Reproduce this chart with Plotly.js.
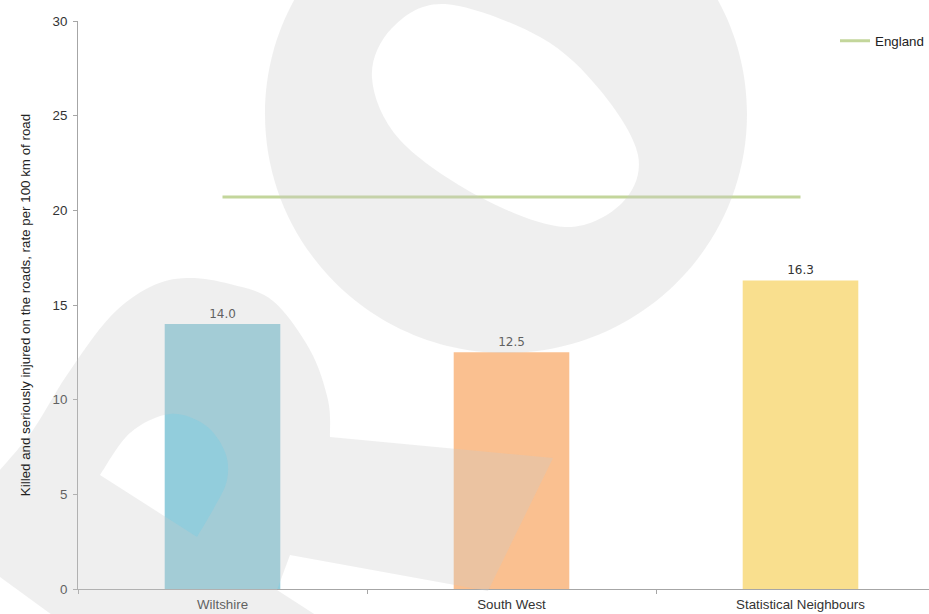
<!DOCTYPE html>
<html>
<head>
<meta charset="utf-8">
<script src="https://cdn.plot.ly/plotly-3.0.1.min.js"></script>
<style>
  html, body { margin: 0; padding: 0; background: #ffffff; overflow: hidden; }
  #chart { width: 929px; height: 614px; }
</style>
</head>
<body>
<div id="chart"></div>
<script>
// ---- data ----
const categories = ['Wiltshire', 'South West', 'Statistical Neighbours'];
const rates = [14.0, 12.5, 16.3];
const englandRate = [20.7, 20.7, 20.7];
const barColors = ['#92cddc', '#fac090', '#f9df8e'];
const yTickValues = [0, 5, 10, 15, 20, 25, 30];
const yTitle = 'Killed and seriously injured on the roads, rate per 100 km of road';
const englandName = 'England';

// ---- geometry helpers for the background watermark (decoration) ----
const W = 929, H = 614;
const M = { l: 78, r: 0, t: 21, b: 25 };
function P(x, y) {
  const px = (x - M.l) / (W - M.l - M.r);
  const py = (H - M.b - y) / (H - M.t - M.b);
  return px.toFixed(5) + ',' + py.toFixed(5);
}
function curveThrough(pts, closed) {
  const N = pts.length;
  const segs = closed ? N : N - 1;
  let s = '';
  for (let i = 0; i < segs; i++) {
    const p0 = pts[closed ? (i - 1 + N) % N : Math.max(i - 1, 0)];
    const p1 = pts[i];
    const p2 = pts[(i + 1) % N];
    const p3 = pts[closed ? (i + 2) % N : Math.min(i + 2, N - 1)];
    const c1 = [p1[0] + (p2[0] - p0[0]) / 6, p1[1] + (p2[1] - p0[1]) / 6];
    const c2 = [p2[0] - (p3[0] - p1[0]) / 6, p2[1] - (p3[1] - p1[1]) / 6];
    s += ' C' + P(c1[0], c1[1]) + ' ' + P(c2[0], c2[1]) + ' ' + P(p2[0], p2[1]);
  }
  return s;
}
function ellipsePath(cx, cy, rx, ry) {
  const k = 0.5523;
  return 'M' + P(cx + rx, cy) +
    ' C' + P(cx + rx, cy + k * ry) + ' ' + P(cx + k * rx, cy + ry) + ' ' + P(cx, cy + ry) +
    ' C' + P(cx - k * rx, cy + ry) + ' ' + P(cx - rx, cy + k * ry) + ' ' + P(cx - rx, cy) +
    ' C' + P(cx - rx, cy - k * ry) + ' ' + P(cx - k * rx, cy - ry) + ' ' + P(cx, cy - ry) +
    ' C' + P(cx + k * rx, cy - ry) + ' ' + P(cx + rx, cy - k * ry) + ' ' + P(cx + rx, cy) + ' Z';
}

const eggPts = [[445, 4], [540, 37], [600, 90], [638, 155], [622, 203], [565, 227],
                [480, 197], [400, 140], [372, 78], [392, 28]];
const topPath = ellipsePath(506, 114, 241, 239) +
  ' M' + P(eggPts[0][0], eggPts[0][1]) + curveThrough(eggPts, true) + ' Z';

const arcPts = [[0, 470], [33, 430], [67, 375], [110, 317], [150, 287], [187, 278],
                [230, 284], [273, 301], [310, 350], [328, 400], [330, 437]];
const dropPts = [[100, 475], [130, 433], [170, 414], [205, 425], [225, 452],
                 [227, 480], [214, 508], [197, 537]];
const hookPath =
  'M' + P(100, 650) + ' L' + P(-30, 555) + ' L' + P(-30, 470) + ' L' + P(0, 470) +
  curveThrough(arcPts, false) +
  ' L' + P(553, 458) + ' L' + P(488, 591) + ' L' + P(290, 555) + ' L' + P(277, 590) +
  ' L' + P(370, 650) + ' Z' +
  ' M' + P(dropPts[0][0], dropPts[0][1]) + curveThrough(dropPts, false) + ' Z';

const wmStyle = {
  type: 'path', xref: 'paper', yref: 'paper', layer: 'above',
  fillcolor: 'rgb(202,202,202)', opacity: 0.3, line: { width: 0 }, fillrule: 'evenodd'
};

const FONT = 'Liberation Sans, Arial, sans-serif';
const FS = 13.33;

// ---- traces ----
const bars = {
  type: 'bar',
  x: categories,
  y: rates,
  marker: { color: barColors, line: { width: 0 } },
  width: 0.4,
  texttemplate: '%{y:.1f}',
  textposition: 'outside',
  cliponaxis: false,
  textfont: { family: 'DejaVu Sans, sans-serif', size: 12, color: '#333333' },
  showlegend: false,
  hoverinfo: 'skip'
};
const england = {
  type: 'scatter',
  mode: 'lines',
  name: englandName,
  x: categories,
  y: englandRate,
  line: { color: '#c3d69b', width: 3 },
  hoverinfo: 'skip'
};

const layout = {
  width: W, height: H,
  margin: Object.assign({ autoexpand: false }, M),
  paper_bgcolor: '#ffffff',
  plot_bgcolor: '#ffffff',
  font: { family: FONT, size: FS, color: '#404040' },
  showlegend: true,
  legend: {
    x: 1.0, xanchor: 'right', y: (H - M.b - 41) / (H - M.t - M.b), yanchor: 'middle',
    bgcolor: 'rgba(0,0,0,0)', borderwidth: 0,
    font: { family: FONT, size: FS, color: '#222222' }
  },
  xaxis: {
    type: 'category',
    range: [-0.5, -0.5 + (W - M.l - M.r) / 289],
    showline: true, linecolor: '#a6a6a6', linewidth: 1,
    ticks: 'outside', tickson: 'boundaries', ticklen: 4, tickcolor: '#a6a6a6',
    ticklabelstandoff: 3,
    showgrid: false, zeroline: false, automargin: false,
    tickfont: { family: FONT, size: FS, color: '#333333' }
  },
  yaxis: {
    range: [0, 30],
    tickvals: yTickValues,
    showline: true, linecolor: '#a6a6a6', linewidth: 1,
    ticks: 'outside', ticklen: 4, tickcolor: '#a6a6a6',
    ticklabelstandoff: 3,
    showgrid: false, zeroline: false, automargin: false,
    tickfont: { family: FONT, size: FS, color: '#333333' },
    title: {
      text: yTitle, standoff: 18,
      font: { family: FONT, size: FS, color: '#222222' }
    }
  },
  shapes: [
    Object.assign({ path: topPath }, wmStyle),
    Object.assign({ path: hookPath }, wmStyle)
  ],
  bargap: 0.6
};

Plotly.newPlot('chart', [bars, england], layout, { displayModeBar: false, staticPlot: true });
</script>
</body>
</html>
